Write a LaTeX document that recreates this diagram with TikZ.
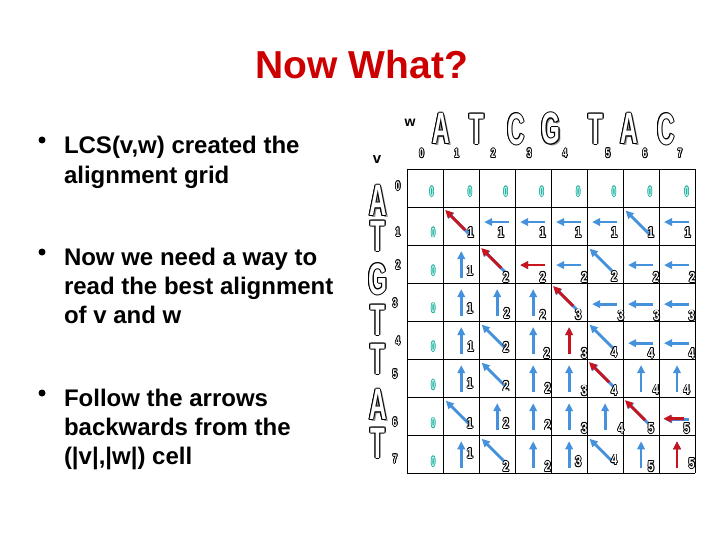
\documentclass[tikz,border=0pt]{standalone}
\usepackage{fontspec}
\setmainfont{Liberation Sans}
\usepackage{graphicx}
\usetikzlibrary{arrows.meta,calc}
\definecolor{titlered}{RGB}{204,0,0}
\definecolor{arrblue}{RGB}{70,145,220}
\definecolor{arrred}{RGB}{200,20,30}
\definecolor{zteal}{RGB}{30,175,160}
\definecolor{zfill}{RGB}{200,245,236}
\definecolor{shadowgray}{RGB}{150,150,150}
\newlength\olw
\setlength\olw{0.8pt}
\newcommand{\olt}[3]{%
  \begingroup
  \setbox0=\hbox{#3}%
  \def\cp##1##2{\rlap{\kern##1\raise##2\hbox{\color{#1}\copy0}}}%
  \cp{-\olw}{0pt}\cp{\olw}{0pt}\cp{0pt}{\olw}\cp{0pt}{-\olw}%
  \cp{-0.7\olw}{0.7\olw}\cp{0.7\olw}{0.7\olw}\cp{-0.7\olw}{-0.7\olw}\cp{0.7\olw}{-0.7\olw}%
  \hbox{\color{#2}\copy0}%
  \endgroup}
\newcommand{\olts}[3]{%
  \begingroup
  \setbox0=\hbox{#3}%
  \rlap{\kern2pt\raise-1.6pt\hbox{\color{shadowgray}\copy0}}%
  \olt{#1}{#2}{\copy0}%
  \endgroup}
\newcommand{\seqA}[1]{{\setlength\olw{1pt}\olt{black}{white}{\fontsize{44}{44}\selectfont\bfseries\scalebox{0.55}[1]{#1}}}}
\newcommand{\seqS}[1]{{\setlength\olw{1pt}\olts{black}{white}{\fontsize{44}{44}\selectfont\bfseries\scalebox{0.55}[1]{#1}}}}
\newcommand{\cdig}[1]{{\setlength\olw{0.9pt}\olt{black}{white}{\fontsize{14.5}{14.5}\selectfont\bfseries\scalebox{0.75}[1]{#1}}}}
\newcommand{\hdig}[1]{{\setlength\olw{0.85pt}\olt{black}{white}{\fontsize{12.5}{12.5}\selectfont\bfseries\scalebox{0.65}[1]{#1}}}}
\newcommand{\zdig}{{\setlength\olw{0.8pt}\olt{zteal}{zfill}{\fontsize{13.5}{13.5}\selectfont\bfseries\scalebox{0.5}[1]{0}}}}
\begin{document}
\begin{tikzpicture}[x=1pt,y=-1pt,
  every node/.style={inner sep=0pt,outer sep=0pt},
  barrow/.style={draw=arrblue,line width=2.8pt,-{Triangle[length=8pt,width=7.5pt]}},
  rarrow/.style={draw=arrred,line width=2.8pt,-{Triangle[length=8pt,width=7.5pt]}},
  gridline/.style={draw=black,line width=0.9pt},
  bodytext/.style={font=\fontsize{24}{26}\selectfont\bfseries,anchor=base west},
  bullet/.style={circle,fill=black,minimum size=7pt}]
\useasboundingbox[fill=white] (0,0) rectangle (720,540);
% title
\node[font=\fontsize{39}{40}\selectfont\bfseries,text=titlered,anchor=base] (title) at (361.7,78.3) {Now What?};
% bullets
\node[bullet] (b1) at (42,140) {};
\node[bullet] (b2) at (42,252) {};
\node[bullet] (b3) at (42,393) {};
\node[bodytext] (l1) at (64,154) {LCS(v,w) created the};
\node[bodytext] (l2) at (64,183.3) {alignment grid};
\node[bodytext] (l3) at (64,265.7) {Now we need a way to};
\node[bodytext] (l4) at (64,294.7) {read the best alignment};
\node[bodytext] (l5) at (64,323.7) {of v and w};
\node[bodytext] (l6) at (64,406.7) {Follow the arrows};
\node[bodytext] (l7) at (64,435.7) {backwards from the};
\node[bodytext] (l8) at (64,464.7) {(|v|,|w|) cell};
% w, v labels
\node[font=\fontsize{14}{14}\selectfont\bfseries] (wlab) at (410,123) {w};
\node[font=\fontsize{15}{15}\selectfont\bfseries] (vlab) at (377,160) {v};
% top sequence
\node (wA1) at (441,129) {\seqS{A}};
\node (wT1) at (477,129) {\seqA{T}};
\node (wC1) at (516,129) {\seqA{C}};
\node (wG1) at (551,129) {\seqS{G}};
\node (wT2) at (596,129) {\seqA{T}};
\node (wA2) at (629,129) {\seqS{A}};
\node (wC2) at (666,129) {\seqA{C}};
% left sequence
\node (vA1) at (378,201) {\seqS{A}};
\node (vT1) at (378,236) {\seqA{T}};
\node (vG1) at (378,279) {\seqA{G}};
\node (vT2) at (378,320) {\seqA{T}};
\node (vT3) at (378,359) {\seqA{T}};
\node (vA2) at (378,405) {\seqS{A}};
\node (vT4) at (378,443) {\seqA{T}};
% column indices
\foreach \x [count=\k from 0] in {421.7,456.7,493.3,529.3,565,608,645,680}
  \node (ci\k) at (\x,153.3) {\hdig{\k}};
% row indices
\foreach \x/\y [count=\k from 0] in {398/186,398/232,398/265,395/303,398/341,395/374,395/422,395/459}
  \node (ri\k) at (\x,\y) {\hdig{\k}};
% grid
\foreach \j in {0,...,8}
  \draw[gridline] (407.3+35.96*\j,169) -- (407.3+35.96*\j,473.3);
\foreach \i in {0,...,8}
  \draw[gridline] (407.3,169+38.04*\i) -- (695,169+38.04*\i);
% diagonal arrows
\foreach \i/\j in {1/1,1/6,2/2,2/5,3/4,4/2,4/5,5/2,5/5,6/1,6/6,7/2,7/5} {
  \coordinate (t\i\j) at (407.3+35.96*\j+27,169+38.04*\i+28);
  \coordinate (h\i\j) at (407.3+35.96*\j+2.5,169+38.04*\i+3.5);
  \draw[barrow] (t\i\j) -- (h\i\j);
}
% left arrows
\foreach \i/\j/\r in {1/2/15,1/3/15,1/4/15,1/5/15,1/7/15,2/3/20,2/4/20,2/6/20,2/7/20,3/5/21,3/6/21,3/7/21,4/6/22,4/7/22,6/7/22} {
  \coordinate (t\i\j) at (407.3+35.96*\j+30,169+38.04*\i+\r);
  \coordinate (h\i\j) at (407.3+35.96*\j+5,169+38.04*\i+\r);
  \draw[barrow] (t\i\j) -- (h\i\j);
}
% up arrows
\foreach \i/\j in {2/1,3/1,3/2,3/3,4/1,4/3,4/4,5/1,5/3,5/4,5/6,5/7,6/2,6/3,6/4,6/5,7/1,7/3,7/4,7/6,7/7} {
  \coordinate (t\i\j) at (407.3+35.96*\j+18,169+38.04*\i+33);
  \coordinate (h\i\j) at (407.3+35.96*\j+18,169+38.04*\i+6);
  \draw[barrow] (t\i\j) -- (h\i\j);
}
% traceback path (red)
\foreach \i/\j in {1/1,2/2,3/4,5/5,6/6,6/7}
  \draw[rarrow] ($(t\i\j)!0.18!(h\i\j)+(-0.6,-0.6)$) -- ($(h\i\j)+(-0.6,-0.6)$);
\foreach \i/\j in {2/3,4/4,7/7}
  \draw[rarrow] (t\i\j) -- (h\i\j);
% teal zeros
\foreach \x [count=\k] in {431.7,470,505.7,541.7,578.3,614,650,686.7}
  \node (zr\k) at (\x,191.7) {\zdig};
\foreach \y [count=\k] in {232.5,270.7,308.3,346.7,385,423.3,461.7}
  \node (zc\k) at (433.3,\y) {\zdig};
% cell values
\foreach \x/\y/\v [count=\k] in {
  470.7/232.5/1,501/232.5/1,542.7/232.5/1,578.3/232.5/1,614.3/232.5/1,651/232.5/1,687.7/232.5/1,
  470/271/1,506/277.3/2,542.7/277.3/2,584.3/277.3/2,614.3/276.7/2,656/277.3/2,692.3/277.3/2,
  470/308.3/1,506.7/313.3/2,542.7/315/2,578.3/315/3,621/316/3,656.7/316/3,691.7/316/3,
  470.7/346.7/1,506/347.3/2,546.7/353.3/2,584.3/353.3/3,614.3/352.3/4,651/353.3/4,691.7/353.3/4,
  470/383.3/1,506/386/2,547.7/388.3/2,584.3/391/3,614.3/390.7/4,656/390/4,686.7/390/4,
  470/423.3/1,506/423.3/2,547.7/425/2,584.3/428.3/3,621/428.3/4,651/428.3/5,686.7/428.3/5,
  470/453.3/1,506/466.7/2,547.7/466.7/2,578.3/461.7/3,614.3/460/4,651/466.7/5,691.7/463.3/5}
  \node (dg\k) at (\x,\y) {\cdig{\v}};
\end{tikzpicture}
\end{document}
